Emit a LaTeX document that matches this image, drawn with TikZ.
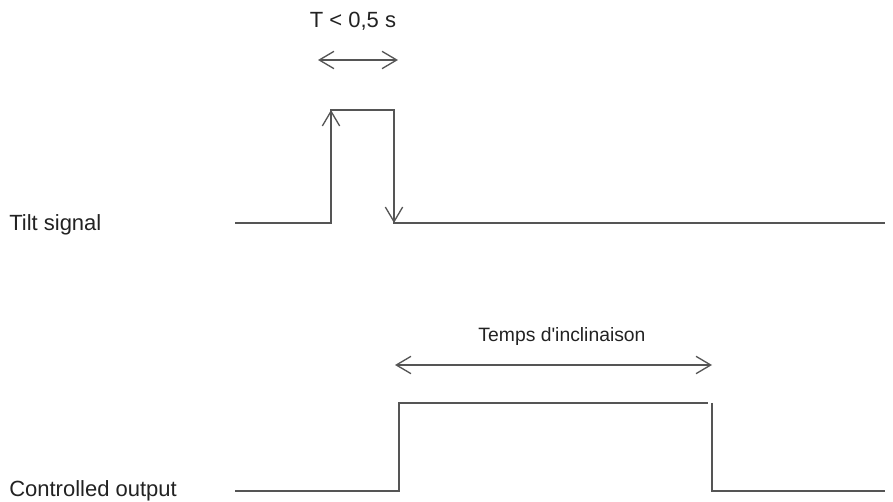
\documentclass[tikz,border=0pt]{standalone}
\usepackage{fontspec}
\setmainfont{Liberation Sans}
\usetikzlibrary{arrows.meta,positioning}
\definecolor{wave}{HTML}{555555}
\definecolor{txt}{HTML}{222222}

\begin{document}
\begin{tikzpicture}[
  x=0.75pt, y=-0.75pt,
  >={Straight Barb[length=11pt,width=13pt,line width=1pt]},
  sig/.style={draw=wave, line width=1.1pt},
  arr/.style={<->, draw=wave, line width=1.1pt},
  edge/.style={->, draw=wave, line width=1.1pt},
  lbl/.style={font=\fontsize{16.5}{19}\selectfont, text=txt, inner sep=0pt},
  dur/.style={font=\fontsize{14.5}{17}\selectfont, text=txt, inner sep=0pt, anchor=base},
]
\useasboundingbox (0,0) rectangle (893,502);

% labels
\node[lbl, anchor=west] (tilt) at (9,225) {Tilt signal};
\node[lbl, anchor=west] (out) at (9,491) {Controlled output};

% tilt signal
\coordinate (t0) at (235,223);
\coordinate (t1) at (331,223);
\coordinate (t2) at (331,110);
\coordinate (t3) at (394,110);
\coordinate (t4) at (394,223);
\coordinate (t5) at (885,223);
\draw[sig] (t0) -- (t1) -- (t2) -- (t3) -- (t4) -- (t5);
\draw[edge] (t1) -- (t2);
\draw[edge] (t3) -- (t4);

% pulse width
\coordinate (p0) at (318,60);
\coordinate (p1) at (398,60);
\draw[arr] (p0) -- (p1);
\node[dur, font=\fontsize{16.5}{19}\selectfont] (plbl) at (353,28) {T < 0,5 s};

% controlled output
\coordinate (o0) at (235,491);
\coordinate (o1) at (399,491);
\coordinate (o2) at (399,403);
\coordinate (o3) at (708,403);
\coordinate (o4) at (712,403);
\coordinate (o5) at (712,491);
\coordinate (o6) at (885,491);
\draw[sig] (o0) -- (o1) -- (o2) -- (o3);
\draw[sig] (o4) -- (o5) -- (o6);

% tilt time
\coordinate (i0) at (395,365);
\coordinate (i1) at (712,365);
\draw[arr] (i0) -- (i1);
\node[dur] (ilbl) at (562,342) {Temps d\textquotesingle inclinaison};

\end{tikzpicture}
\end{document}
